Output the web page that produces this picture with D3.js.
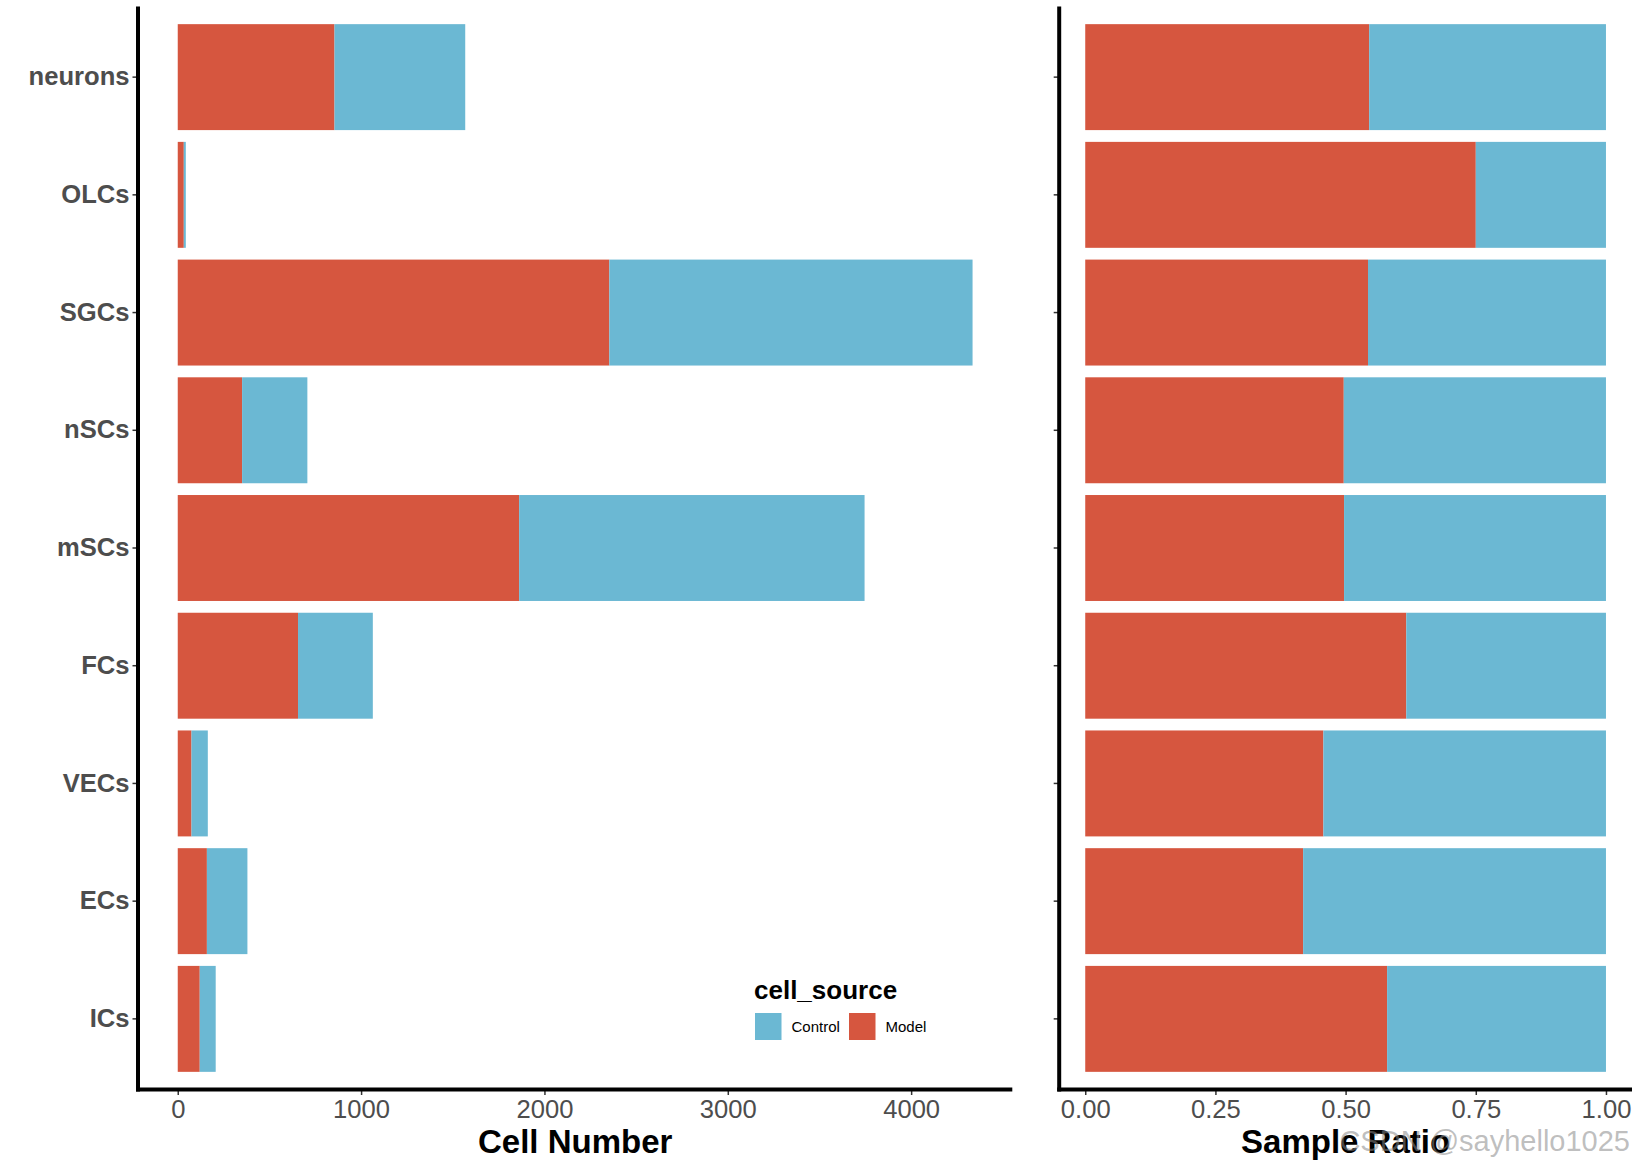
<!DOCTYPE html>
<html><head><meta charset="utf-8">
<script src="https://cdn.jsdelivr.net/npm/d3@7"></script>
<style>body{margin:0;background:#fff}svg{display:block}text{font-family:"Liberation Sans",Arial,sans-serif}</style>
</head><body>
<svg id="c" width="1633" height="1167"></svg>
<script>
const categories = ["neurons","OLCs","SGCs","nSCs","mSCs","FCs","VECs","ECs","ICs"];
const modelCounts   = [855, 33, 2354, 351, 1862, 656, 75, 159, 120];
const controlCounts = [713, 11, 1981, 356, 1884, 408, 89, 221, 87];
const sources = ["Control","Model"];
const countTicks = [0,1000,2000,3000,4000];
const ratioTicks = [0,0.25,0.5,0.75,1];
const ratioTickLabels = ["0.00","0.25","0.50","0.75","1.00"];
const colors = {Control:"#6BB8D3", Model:"#D6563F"};

const svg = d3.select("#c");
const plotTop = 6.5, plotBottom = 1089.5;
const L = {x0:138, x1:1012.3};
const R = {x0:1059.2, x1:1632};

const y = d3.scaleBand().domain(categories).range([plotTop,plotBottom]).paddingInner(0.1).paddingOuter(0.15);

const totals = categories.map((c,i)=>modelCounts[i]+controlCounts[i]);
const maxT = d3.max(totals);
const xL = d3.scaleLinear().domain([-0.05*maxT, 1.05*maxT]).range([L.x0,L.x1]);
const xR = d3.scaleLinear().domain([-0.05, 1.05]).range([R.x0,R.x1]);

const rows = categories.map((c,i)=>({c, m:modelCounts[i], k:controlCounts[i], t:totals[i]}));

const gL = svg.append("g");
rows.forEach(r=>{
  gL.append("rect").attr("x",xL(0)).attr("y",y(r.c)).attr("width",xL(r.m)-xL(0)).attr("height",y.bandwidth()).attr("fill",colors.Model);
  gL.append("rect").attr("x",xL(r.m)).attr("y",y(r.c)).attr("width",xL(r.t)-xL(r.m)).attr("height",y.bandwidth()).attr("fill",colors.Control);
});
const gR = svg.append("g");
rows.forEach(r=>{
  const p = r.m/r.t;
  gR.append("rect").attr("x",xR(0)).attr("y",y(r.c)).attr("width",xR(p)-xR(0)).attr("height",y.bandwidth()).attr("fill",colors.Model);
  gR.append("rect").attr("x",xR(p)).attr("y",y(r.c)).attr("width",xR(1)-xR(p)).attr("height",y.bandwidth()).attr("fill",colors.Control);
});

function styleAxis(g){
  g.select(".domain").remove();
  g.selectAll(".tick line").attr("stroke","#333").attr("stroke-width",1.5);
  g.selectAll(".tick text").attr("fill","#4D4D4D").style("font-size","25.6px");
}
const yAxL = svg.append("g").attr("transform",`translate(${L.x0},0)`)
  .call(d3.axisLeft(y).tickSize(5.5).tickPadding(3));
styleAxis(yAxL);
yAxL.selectAll(".tick text").style("font-weight","bold");
const yAxR = svg.append("g").attr("transform",`translate(${R.x0},0)`)
  .call(d3.axisLeft(y).tickSize(5.5).tickFormat(""));
styleAxis(yAxR);
const xAxL = svg.append("g").attr("transform",`translate(0,${plotBottom})`)
  .call(d3.axisBottom(xL).tickValues(countTicks).tickFormat(d3.format("d")).tickSize(5.5).tickPadding(5));
styleAxis(xAxL);
const xAxR = svg.append("g").attr("transform",`translate(0,${plotBottom})`)
  .call(d3.axisBottom(xR).tickValues(ratioTicks).tickFormat((d,i)=>ratioTickLabels[i]).tickSize(5.5).tickPadding(5));
styleAxis(xAxR);

[[L.x0,L.x1],[R.x0,R.x1]].forEach(([a,b])=>{
  svg.append("line").attr("x1",a).attr("x2",a).attr("y1",plotTop).attr("y2",plotBottom+2).attr("stroke","#000").attr("stroke-width",4);
  svg.append("line").attr("x1",a-2).attr("x2",b).attr("y1",plotBottom).attr("y2",plotBottom).attr("stroke","#000").attr("stroke-width",4);
});

svg.append("text").attr("x",(L.x0+L.x1)/2).attr("y",1153).attr("text-anchor","middle")
  .style("font-size","33px").style("font-weight","bold").attr("fill","#000").text("Cell Number");
svg.append("text").attr("x",(R.x0+R.x1)/2).attr("y",1153).attr("text-anchor","middle")
  .style("font-size","33px").style("font-weight","bold").attr("fill","#000").text("Sample Ratio");

const lg = svg.append("g");
lg.append("text").attr("x",754).attr("y",999).style("font-size","26px").style("font-weight","bold").attr("fill","#000").text("cell_source");
const keyX = [755, 849];
sources.forEach((s,i)=>{
  lg.append("rect").attr("x",keyX[i]).attr("y",1013).attr("width",26.5).attr("height",27).attr("fill",colors[s]);
  lg.append("text").attr("x",keyX[i]+36.5).attr("y",1032).style("font-size","15px").attr("fill","#000").text(s);
});

svg.append("text").attr("x",1630).attr("y",1151).attr("text-anchor","end")
  .style("font-size","29px").attr("fill","#888").attr("fill-opacity",0.55).text("CSDN @sayhello1025");
</script>
</body></html>
